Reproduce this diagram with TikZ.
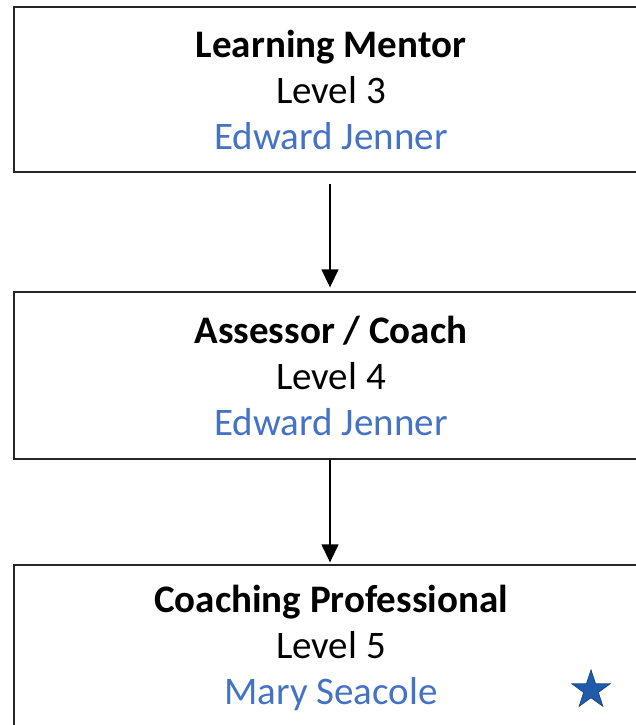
\documentclass[tikz,border=0pt]{standalone}
\usepackage{fontspec}
\setmainfont{Carlito}
\usetikzlibrary{arrows.meta,shapes.geometric}
\definecolor{nameblue}{HTML}{4472C4}
\definecolor{starfill}{HTML}{1F5BAA}
\definecolor{starline}{HTML}{17468A}
\tikzset{
  levelbox/.style={draw=black!85, line width=1.3pt, minimum width=634pt, inner sep=0pt, align=center,
     font=\fontsize{39}{46}\selectfont},
  flow/.style={line width=1.3pt, -{Triangle[length=18pt,width=17pt]}},
}
\newcommand{\lvtitle}[1]{\textbf{#1}}
\newcommand{\lvname}[1]{\textcolor{nameblue}{#1}}
\begin{document}
\begin{tikzpicture}[x=1pt,y=1pt]
\useasboundingbox (0,0) rectangle (635,-725);
\node[levelbox, minimum height=165pt] (b1) at (331,-89.5)
  {\lvtitle{Learning Mentor}\\Level 3\\\lvname{Edward Jenner}};
\node[levelbox, minimum height=167pt] (b2) at (331,-375.5)
  {\lvtitle{Assessor / Coach}\\Level 4\\\lvname{Edward Jenner}};
\node[levelbox, minimum height=166pt] (b3) at (331,-648)
  {\lvtitle{Coaching Professional}\\Level 5\\\lvname{Mary Seacole}};
\draw[flow, shorten <=11pt, shorten >=4pt] ([xshift=-1pt]b1.south) -- ([xshift=-1pt]b2.north);
\draw[flow, shorten >=2pt] ([xshift=-1pt]b2.south) -- ([xshift=-1pt]b3.north);
\node[star, star points=5, star point ratio=2.6, minimum size=40pt, inner sep=0pt,
  fill=starfill, draw=starline, line width=0.8pt] (st) at (591,-690) {};
\end{tikzpicture}
\end{document}
